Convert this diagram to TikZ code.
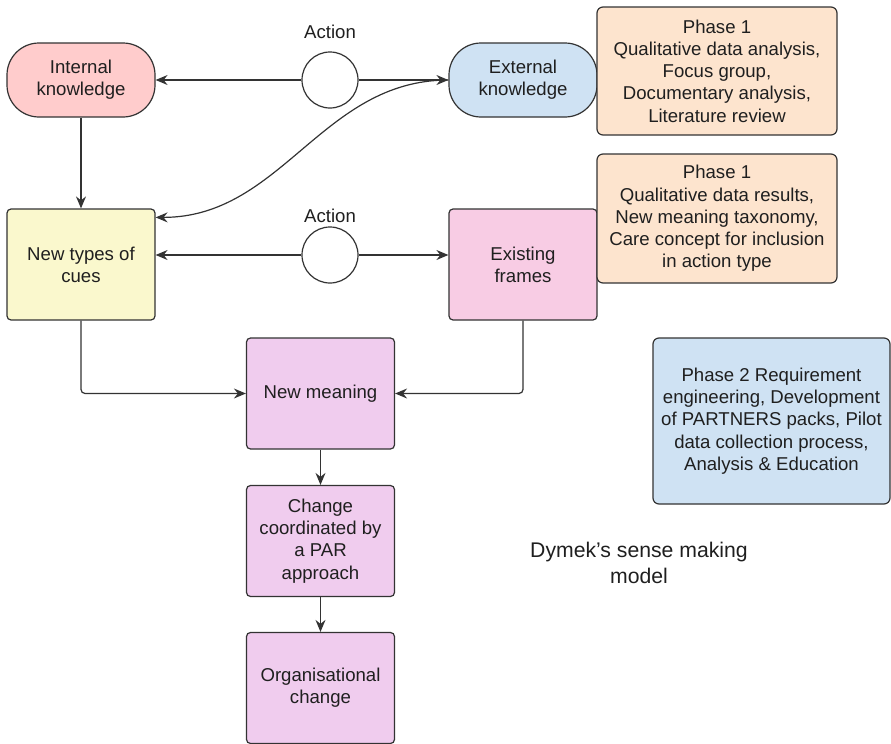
\documentclass[tikz,border=0pt]{standalone}
\usepackage{fontspec}
\setmainfont{Liberation Sans}
\usetikzlibrary{arrows.meta}
\definecolor{intfill}{RGB}{255,204,204}
\definecolor{extfill}{RGB}{207,226,243}
\definecolor{cuefill}{RGB}{250,248,205}
\definecolor{framefill}{RGB}{248,204,228}
\definecolor{meanfill}{RGB}{240,204,238}
\definecolor{peachfill}{RGB}{253,228,206}
\definecolor{edgegray}{RGB}{51,51,51}
\begin{document}
\begin{tikzpicture}[x=0.5pt, y=-0.5pt,
    >={Stealth[length=6pt,width=5pt,inset=2pt]},
    every node/.style={font=\fontsize{9.3}{11.1}\selectfont, text=black!88},
    conn/.style={draw=edgegray, line width=0.6pt},
    knowbox/.style={conn, rounded corners=16pt, minimum width=74pt, minimum height=37pt, align=center},
    stepbox/.style={conn, rounded corners=2pt, minimum width=74pt, minimum height=55.5pt, align=center},
    phasebox/.style={conn, rounded corners=3pt, minimum width=120pt, align=center, fill=peachfill},
    actcircle/.style={conn, circle, minimum size=28pt, inner sep=0pt, fill=white}]
        \useasboundingbox (0,0) rectangle (891,744);
        % Knowledge row
        \node[knowbox, fill=intfill] (intk) at (81,80) {Internal\\knowledge};
        \node[knowbox, fill=extfill] (extk) at (523,80) {External\\knowledge};
        \node[actcircle] (actA) at (330,80) {};
        \node (actlabA) at (330,32) {Action};
        % Cues and frames row
        \node[stepbox, fill=cuefill] (cues) at (81,264.5) {New types of\\cues};
        \node[stepbox, fill=framefill] (frames) at (523,264.5) {Existing\\frames};
        \node[actcircle] (actB) at (330,255) {};
        \node (actlabB) at (330,216) {Action};
        % Phase boxes
        \node[phasebox, minimum height=64pt] (phaseA) at (717,71) {Phase 1\\Qualitative data analysis,\\Focus group,\\Documentary analysis,\\Literature review};
        \node[phasebox, minimum height=64.5pt] (phaseB) at (717,218.5) {Phase 1\\Qualitative data results,\\New meaning taxonomy,\\Care concept for inclusion\\in action type};
        \node[phasebox, fill=extfill, minimum width=118.5pt, minimum height=83pt] (phaseC) at (771.5,421) {Phase 2 Requirement\\engineering, Development\\of PARTNERS packs, Pilot\\data collection process,\\Analysis \& Education};
        % Meaning chain
        \node[stepbox, fill=meanfill] (meaning) at (320.5,393.5) {New meaning};
        \node[stepbox, fill=meanfill] (change) at (320.5,541) {Change\\coordinated by\\a PAR\\approach};
        \node[stepbox, fill=meanfill] (orgch) at (320.5,688) {Organisational\\change};
        \node[align=center, font=\fontsize{10.6}{13}\selectfont] (caption) at (639,563) {Dymek’s sense making\\model};
        % Connectors
        \draw[conn, ->] (actA.west) -- (actA.west -| intk.east);
        \draw[conn, ->] (actA.east) -- (actA.east -| extk.west);
        \draw[conn, ->] (extk.west) to[out=180, in=0] ([yshift=-4.5pt]cues.north east);
        \draw[conn, ->] (intk) -- (cues);
        \draw[conn, ->] (actB.west) -- (actB.west -| cues.east);
        \draw[conn, ->] (actB.east) -- (actB.east -| frames.west);
        \draw[conn, ->, rounded corners=2pt] (cues.south) |- (meaning.west);
        \draw[conn, ->, rounded corners=2pt] (frames.south) |- (meaning.east);
        \draw[conn, ->] (meaning) -- (change);
        \draw[conn, ->] (change) -- (orgch);
\end{tikzpicture}
\end{document}
